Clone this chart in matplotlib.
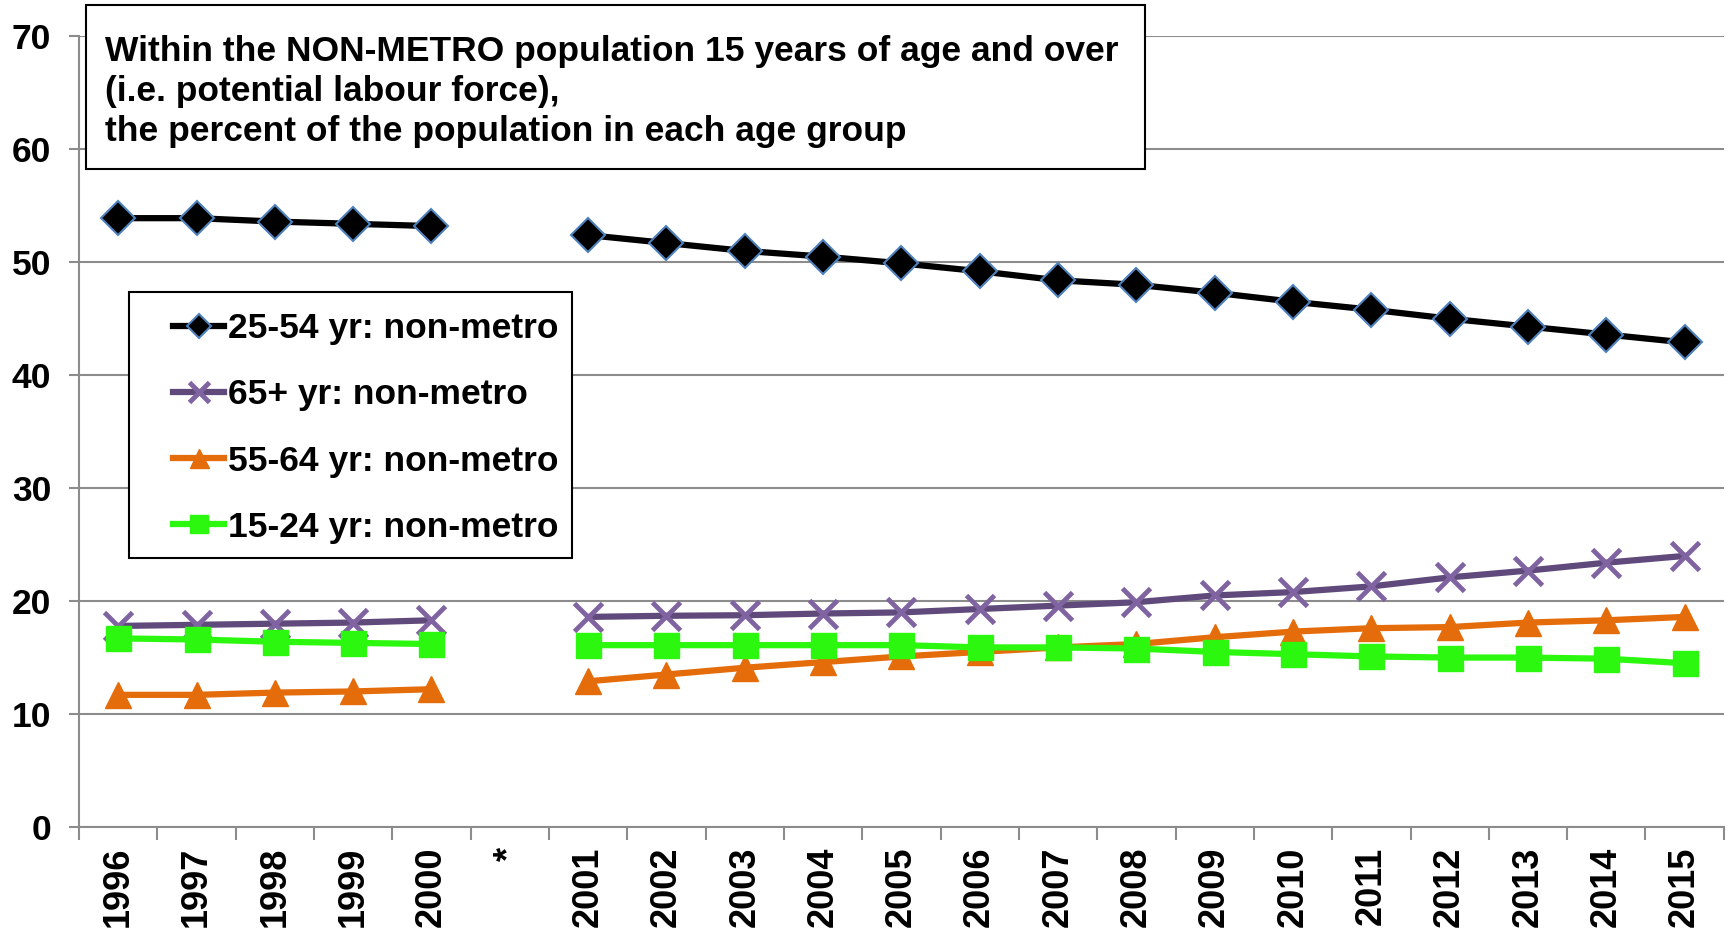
import numpy as np
import matplotlib
matplotlib.use("Agg")
import matplotlib.pyplot as plt
from matplotlib.patches import Rectangle

plt.rcParams['font.family'] = ['Liberation Sans', 'DejaVu Sans']
plt.rcParams['font.weight'] = 'bold'

years = ["1996", "1997", "1998", "1999", "2000", "*",
         "2001", "2002", "2003", "2004", "2005", "2006", "2007", "2008",
         "2009", "2010", "2011", "2012", "2013", "2014", "2015"]

nan = np.nan
age_25_54 = [53.9, 53.9, 53.6, 53.4, 53.2, nan,
             52.4, 51.7, 51.0, 50.5, 49.9, 49.2, 48.4, 48.0,
             47.3, 46.5, 45.8, 45.0, 44.3, 43.6, 42.9]
age_65_up = [17.8, 17.9, 18.0, 18.1, 18.3, nan,
             18.6, 18.7, 18.75, 18.9, 19.0, 19.3, 19.6, 19.9,
             20.5, 20.8, 21.3, 22.1, 22.7, 23.4, 24.0]
age_55_64 = [11.7, 11.7, 11.9, 12.0, 12.2, nan,
             12.9, 13.5, 14.1, 14.6, 15.1, 15.5, 15.9, 16.2,
             16.8, 17.3, 17.6, 17.7, 18.1, 18.3, 18.6]
age_15_24 = [16.7, 16.6, 16.4, 16.3, 16.2, nan,
             16.1, 16.1, 16.1, 16.1, 16.1, 15.9, 15.9, 15.8,
             15.5, 15.3, 15.1, 15.0, 15.0, 14.9, 14.5]

title_lines = ["Within the NON-METRO population 15 years of age and over",
               "(i.e. potential labour force),",
               "the percent of the population in each age group"]

W, H = 1729, 931
fig = plt.figure(figsize=(W / 100, H / 100), dpi=100)
ax = fig.add_axes([0.0457, 0.1117, 0.9513, 0.8493])

x = np.arange(len(years))

ax.plot(x, age_25_54, color='black', lw=4.5, marker='D', ms=17,
        mfc='black', mec='#4f81bd', mew=1.5, label='25-54 yr: non-metro')
ax.plot(x, age_65_up, color='#604a7b', lw=4.5, marker='x', ms=20,
        mec='#8064a2', mew=3.5, label='65+ yr: non-metro')
ax.plot(x, age_55_64, color='#e46c0a', lw=4.5, marker='^', ms=19,
        mfc='#e46c0a', mec='#e46c0a', label='55-64 yr: non-metro')
ax.plot(x, age_15_24, color='#2cf80f', lw=4.5, marker='s', ms=18,
        mfc='#2cf80f', mec='#2cf80f', label='15-24 yr: non-metro')

ax.set_xlim(-0.5, len(years) - 0.5)
ax.set_ylim(0, 70)
ax.set_yticks(range(0, 71, 10))
ax.yaxis.grid(True, color='#8c8c8c', lw=1.5)
ax.set_axisbelow(True)

ax.set_xticks(x)
ax.set_xticklabels(years, rotation=90, fontsize=26, fontweight='bold')
ax.set_xticks(np.arange(len(years) + 1) - 0.5, minor=True)
ax.tick_params(axis='x', which='major', length=0, pad=14)
ax.tick_params(axis='x', which='minor', length=9, width=1.5, color='#8c8c8c')
ax.tick_params(axis='y', labelsize=25.5, length=7, width=1.5, color='#8c8c8c', pad=13)

for s in ['top', 'right']:
    ax.spines[s].set_visible(False)
for s in ['left', 'bottom']:
    ax.spines[s].set_color('#8c8c8c')
    ax.spines[s].set_linewidth(1.5)

# legend box
fig.patches.append(Rectangle((129 / W, 1 - 558 / H), 443 / W, 266 / H,
                             transform=fig.transFigure, facecolor='white',
                             edgecolor='black', lw=1.5, zorder=2))
handles, labels = ax.get_legend_handles_labels()
fig.legend(handles, labels, loc='upper left', bbox_to_anchor=(173 / W, 1 - 312 / H),
           fontsize=25.5, markerscale=0.72, handlelength=1.45, handletextpad=0.1,
           labelspacing=0.94, borderpad=0, borderaxespad=0, frameon=False)

# title box
fig.patches.append(Rectangle((86 / W, 1 - 169 / H), (1145 - 86) / W,
                             (169 - 5) / H, transform=fig.transFigure,
                             facecolor='white', edgecolor='black', lw=1.5, zorder=2))
for i, line in enumerate(title_lines):
    fig.text(105 / W, 1 - (51 + i * 40) / H, line, fontsize=25.5,
             fontweight='bold', va='center', ha='left', zorder=3)

fig.savefig('out.png', dpi=100)
